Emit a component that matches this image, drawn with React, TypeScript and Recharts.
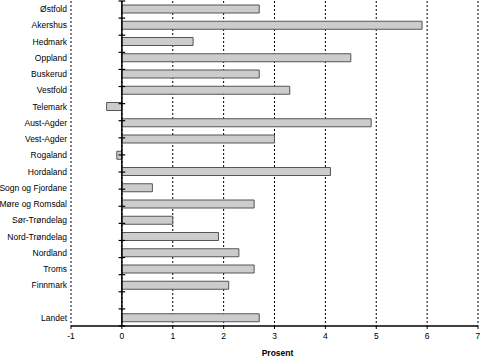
import React from 'react';
import { BarChart, Bar, XAxis, YAxis, CartesianGrid, ReferenceLine } from 'recharts';

const regions = [
  'Østfold', 'Akershus', 'Hedmark', 'Oppland', 'Buskerud', 'Vestfold', 'Telemark',
  'Aust-Agder', 'Vest-Agder', 'Rogaland', 'Hordaland', 'Sogn og Fjordane',
  'Møre og Romsdal', 'Sør-Trøndelag', 'Nord-Trøndelag', 'Nordland', 'Troms',
  'Finnmark', ' ', 'Landet',
];
const values: (number | null)[] = [
  2.7, 5.9, 1.4, 4.5, 2.7, 3.3, -0.3, 4.9, 3.0, -0.1, 4.1, 0.6, 2.6, 1.0, 1.9, 2.3, 2.6, 2.1, null, 2.7,
];
const xTicks = [-1, 0, 1, 2, 3, 4, 5, 6, 7];
const boundaries = Array.from({ length: regions.length + 1 }, (_, i) => i);

const data = regions.map((r, i) => ({ region: r, value: values[i] }));

const FONT = 'Liberation Sans, Arial, sans-serif';
const font = { fontFamily: FONT, fontSize: 8.5, fill: '#000' };

const CatTick = (props: any) => {
  const { x, y, payload } = props;
  return (
    <text x={x} y={y} dy="0.355em" textAnchor="end" fontFamily={FONT} fontSize={8.5} fill="#000">
      {payload.value}
    </text>
  );
};

export default function App() {
  return (
    <div style={{ position: 'absolute', left: 0, top: 0, background: '#fff' }}>
      <BarChart
        width={480}
        height={357}
        data={data}
        layout="vertical"
        margin={{ top: 1, right: 2, bottom: 0, left: 0 }}
      >
        <CartesianGrid horizontal={false} stroke="#000" strokeDasharray="2 2" />
        <XAxis
          type="number"
          domain={[-1, 7]}
          ticks={xTicks}
          allowDataOverflow
          height={31}
          tickSize={3}
          tickMargin={4}
          axisLine={{ stroke: '#000', strokeWidth: 1.5 }}
          tickLine={{ stroke: '#000' }}
          tick={font}
          label={{
            value: 'Prosent',
            position: 'insideBottom',
            offset: 1,
            dx: 3,
            style: { ...font, fontWeight: 'bold' },
          }}
        />
        <YAxis
          type="category"
          dataKey="region"
          width={71}
          axisLine={false}
          tickLine={false}
          tickSize={0}
          tickMargin={4}
          interval={0}
          tick={<CatTick />}
        />
        <YAxis yAxisId="b" type="number" domain={[0, regions.length]} allowDataOverflow hide />
        <ReferenceLine x={0} stroke="#000" strokeWidth={1.5} />
        {boundaries.map((b) => (
          <ReferenceLine
            key={b}
            yAxisId="b"
            segment={[
              { x: -0.065, y: b },
              { x: 0.065, y: b },
            ]}
            stroke="#000"
            strokeWidth={1.2}
          />
        ))}
        <Bar
          dataKey="value"
          fill="#cccccc"
          stroke="#555555"
          strokeWidth={1}
          barSize={8}
          isAnimationActive={false}
        />
      </BarChart>
    </div>
  );
}
